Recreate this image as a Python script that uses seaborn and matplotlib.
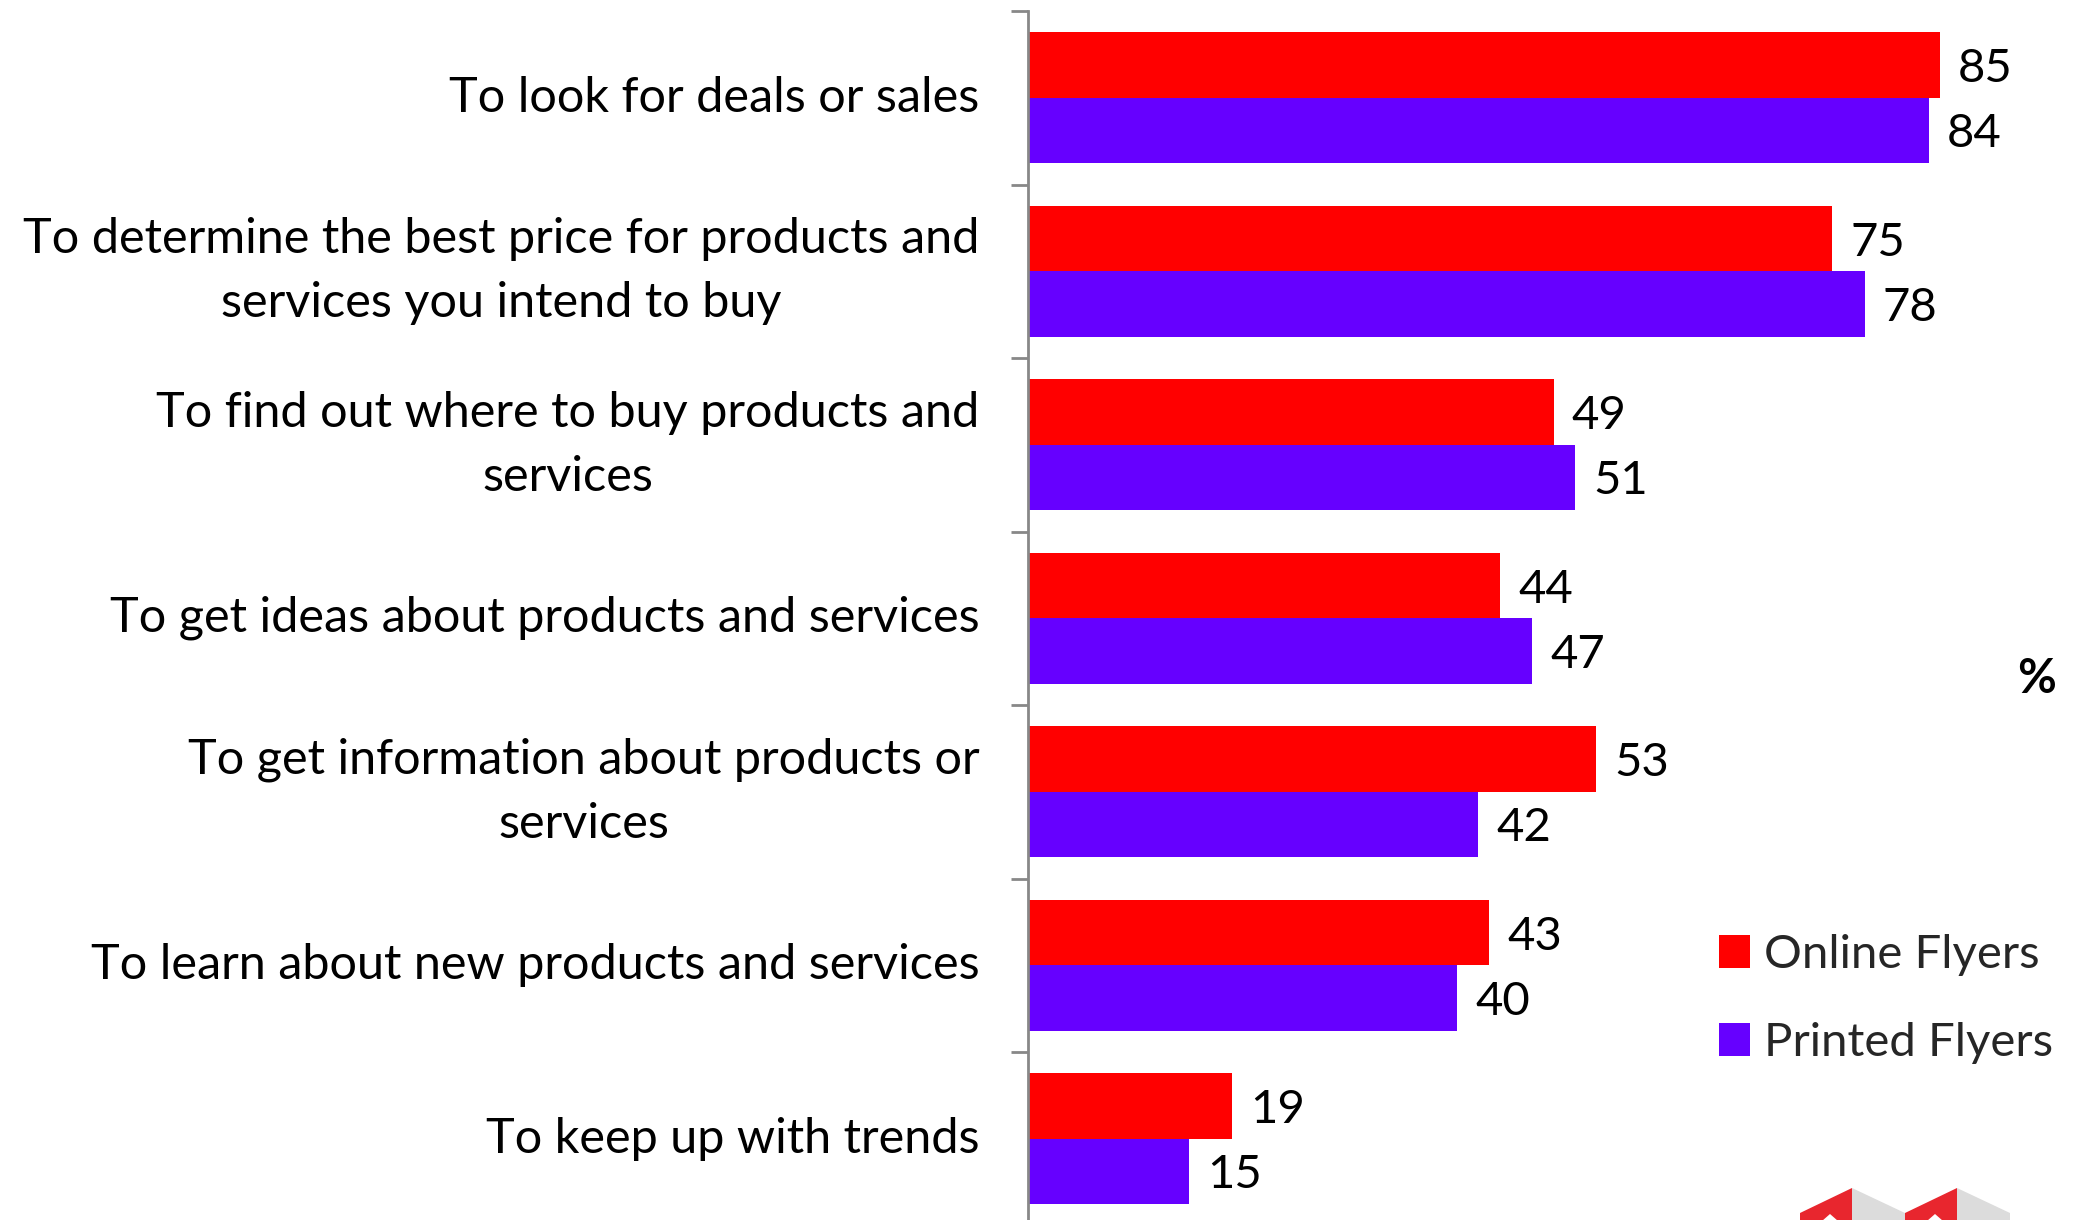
import matplotlib
matplotlib.use("Agg")
import matplotlib.pyplot as plt
from matplotlib.patches import Polygon
import seaborn as sns
import pandas as pd

# Survey results: reasons for using flyers (% of respondents)
categories = [
    "To look for deals or sales",
    "To determine the best price for products and\nservices you intend to buy",
    "To find out where to buy products and\nservices",
    "To get ideas about products and services",
    "To get information about products or\nservices",
    "To learn about new products and services",
    "To keep up with trends",
]
series_names = ["Online Flyers", "Printed Flyers"]
online_values = [85, 75, 49, 44, 53, 43, 19]
printed_values = [84, 78, 51, 47, 42, 40, 15]
series_colors = ["#FF0000", "#6600FF"]

df = pd.DataFrame({
    "reason": categories * 2,
    "series": [series_names[0]] * len(categories) + [series_names[1]] * len(categories),
    "value": online_values + printed_values,
})

sns.set_theme(style="white")
plt.rcParams["font.family"] = ["Lato", "DejaVu Sans"]

W, H = 2074, 1220
fig = plt.figure(figsize=(W / 100, H / 100), dpi=100)

# axes placed in pixel terms: spine at x=1028, first category top at y=11
ax_left = 1028 / W
ax_top = 1 - 11 / H
ax_bottom = 1 - (11 + 7 * 173.5) / H
ax_width = 1072.5 / W
ax = fig.add_axes([ax_left, ax_bottom, ax_width, ax_top - ax_bottom])

sns.barplot(
    data=df, y="reason", x="value", hue="series", orient="h",
    palette=series_colors, width=0.755, gap=0, saturation=1,
    edgecolor="none", linewidth=0, ax=ax,
)

FS = 34
LABEL_FS = 35
for cont in ax.containers:
    texts = ax.bar_label(cont, fmt="%d", padding=13, fontsize=FS, color="black")
    for t in texts:
        t.set_va("center_baseline")

ax.set_xlim(0, 100)
ax.set_ylim(6.5, -0.5)
ax.set_xlabel("")
ax.set_ylabel("")
ax.set_xticks([])

for side in ["top", "right", "bottom"]:
    ax.spines[side].set_visible(False)
ax.spines["left"].set_color("#888888")
ax.spines["left"].set_linewidth(2)

# category boundaries carry the tick marks; labels sit on centres
ax.set_yticks([i - 0.5 for i in range(len(categories) + 1)], minor=True)
ax.tick_params(axis="y", which="minor", length=12, width=2, color="#888888", direction="out", left=True)
ax.tick_params(axis="y", which="major", length=0, pad=35, labelsize=LABEL_FS, labelcolor="black", left=True)
for lbl in ax.get_yticklabels():
    lbl.set_multialignment("center")
    lbl.set_linespacing(1.55)
    lbl.set_va("center")

leg = ax.legend(
    loc="center left", bbox_to_anchor=(1719 / W, 1 - 999 / H),
    bbox_transform=fig.transFigure, frameon=False, fontsize=FS,
    handlelength=0.65, handleheight=0.7, handletextpad=0.3,
    labelspacing=0.97, borderpad=0, borderaxespad=0, title=None,
)

fig.text(2037 / W, 1 - 679 / H, "%", fontsize=FS, fontweight="bold",
         ha="center", va="center", color="black")

# corner logo: two cubes peeking in at the bottom edge
def px(points):
    return [(x / W, 1 - y / H) for x, y in points]

logo_red = "#E8262E"
logo_grey = "#DCDCDC"
for x0 in (1800, 1905):
    fig.patches.append(Polygon(px([(x0, 1213), (x0 + 52, 1188), (x0 + 52, 1221), (x0, 1221)]),
                               closed=True, facecolor=logo_red, edgecolor="none",
                               transform=fig.transFigure))
    fig.patches.append(Polygon(px([(x0 + 52, 1188), (x0 + 105, 1213), (x0 + 105, 1221), (x0 + 52, 1221)]),
                               closed=True, facecolor=logo_grey, edgecolor="none",
                               transform=fig.transFigure))
    fig.patches.append(Polygon(px([(x0 + 22, 1221), (x0 + 30, 1214), (x0 + 38, 1221)]),
                               closed=True, facecolor="white", edgecolor="none",
                               transform=fig.transFigure))

fig.savefig("out.png", dpi=100, facecolor="white")
